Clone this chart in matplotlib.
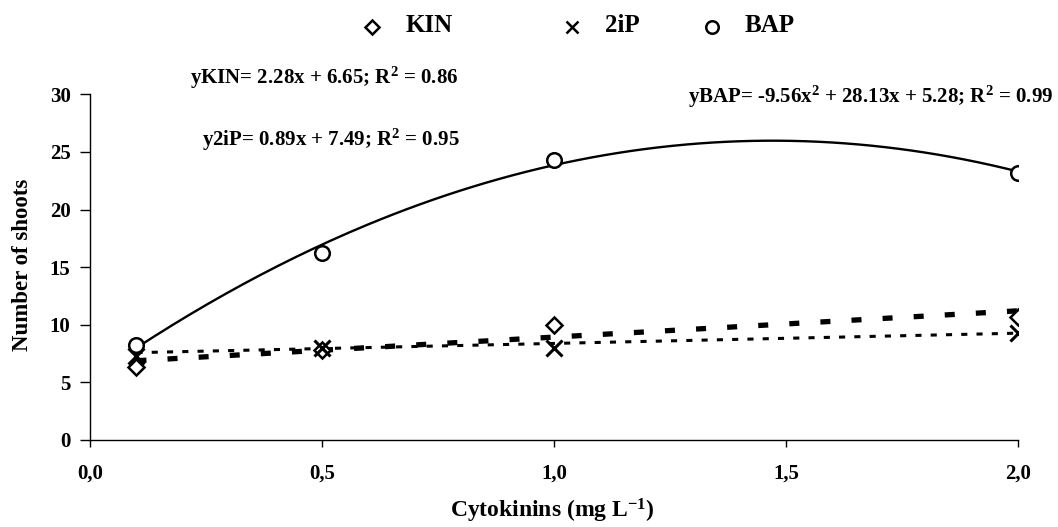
import numpy as np
import matplotlib
matplotlib.use("Agg")
import matplotlib.pyplot as plt
from matplotlib.lines import Line2D

plt.rcParams['font.family'] = ['Liberation Serif', 'DejaVu Serif']
plt.rcParams['font.weight'] = 'bold'
plt.rcParams['mathtext.fontset'] = 'custom'
plt.rcParams['mathtext.rm'] = 'Liberation Serif:bold'
plt.rcParams['mathtext.it'] = 'Liberation Serif:bold'
plt.rcParams['mathtext.bf'] = 'Liberation Serif:bold'

# Data
doses = [0.1, 0.5, 1.0, 2.0]
kin = [6.3, 7.8, 10.0, 10.7]
ip2 = [7.3, 8.0, 8.0, 9.25]
bap = [8.2, 16.2, 24.3, 23.2]

# Regression coefficients (from the chart's equations)
kin_coef = [2.28, 6.65]          # slope, intercept
ip2_coef = [0.89, 7.49]
bap_coef = [-9.56, 28.13, 5.28]  # a, b, c

series_names = ['KIN', '2iP', 'BAP']
x_ticks = [0.0, 0.5, 1.0, 1.5, 2.0]
x_ticklabels = ['0,0', '0,5', '1,0', '1,5', '2,0']
y_ticks = [0, 5, 10, 15, 20, 25, 30]

W, H = 1058, 527
fig = plt.figure(figsize=(W / 100, H / 100), dpi=100)
ax = fig.add_axes([0.0851, 0.1651, 0.8771, 0.656])

xf = np.linspace(min(doses), max(doses), 200)
ax.plot(xf, np.polyval(bap_coef, xf), color='black', lw=1.7)
ax.plot(xf, np.polyval(kin_coef, xf), color='black', lw=3.8, dashes=(1.9, 4.0))
ax.plot(xf, np.polyval(ip2_coef, xf), color='black', lw=2.2, dashes=(2.0, 3.0))

kin_style = dict(linestyle='none', marker='D', markerfacecolor='white',
                 markeredgecolor='black', markeredgewidth=1.8)
ip2_style = dict(linestyle='none', marker='x', color='black', markeredgewidth=2.2)
bap_style = dict(linestyle='none', marker='o', markerfacecolor='white',
                 markeredgecolor='black', markeredgewidth=1.8)

ax.plot(doses, kin, markersize=8.5, zorder=5, **kin_style)
ax.plot(doses, ip2, markersize=11, zorder=5, **ip2_style)
ax.plot(doses, bap, markersize=10.5, zorder=6, **bap_style)

ax.set_xlim(0, 2.0)
ax.set_ylim(0, 30)
ax.set_xticks(x_ticks)
ax.set_xticklabels(x_ticklabels)
ax.set_yticks(y_ticks)
ax.spines['top'].set_visible(False)
ax.spines['right'].set_visible(False)
for s in ['left', 'bottom']:
    ax.spines[s].set_linewidth(1.0)
ax.tick_params(axis='both', labelsize=15, width=1.0, direction='out')
ax.tick_params(axis='x', length=5, pad=12)
ax.tick_params(axis='y', length=7, pad=7)
for lbl in ax.get_xticklabels() + ax.get_yticklabels():
    lbl.set_fontweight('bold')

fig.text(23 / W, 1 - 265 / H, 'Number of shoots', fontsize=16.5, fontweight='bold',
         rotation=90, ha='center', va='center')
fig.text(552 / W, 1 - 511 / H, 'Cytokinins (mg L$^{-1}$)', fontsize=17,
         fontweight='bold', ha='center', va='center')

fig.text(0.1796, 0.852, 'yKIN= 2.28x + 6.65; R$^2$ = 0.86', fontsize=15, fontweight='bold',
         ha='left', va='center')
fig.text(0.191, 0.734, 'y2iP= 0.89x + 7.49; R$^2$ = 0.95', fontsize=15, fontweight='bold',
         ha='left', va='center')
fig.text(0.650, 0.816, 'yBAP= -9.56x$^2$ + 28.13x + 5.28; R$^2$ = 0.99', fontsize=15,
         fontweight='bold', ha='left', va='center')

# Legend (manual placement, as in the reference)
leg_marker_x = [372, 572, 712]
leg_text_x = [406, 605, 745]
leg_styles = [(kin_style, 7.5), (ip2_style, 9), (bap_style, 9)]
for mx, tx, (st, ms), name in zip(leg_marker_x, leg_text_x, leg_styles, series_names):
    st2 = dict(st)
    st2['markeredgewidth'] = 1.8
    fig.add_artist(Line2D([mx / W], [1 - 27 / H], markersize=ms, transform=fig.transFigure, **st2))
    fig.text(tx / W, 1 - 25 / H, name, fontsize=18, fontweight='bold', ha='left', va='center')

fig.savefig('out.png', dpi=100)
